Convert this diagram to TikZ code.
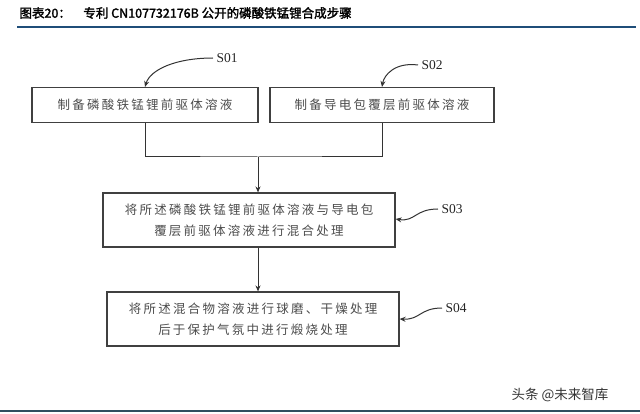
\documentclass[tikz,border=0pt]{standalone}
\usepackage{fontspec}
\setmainfont{Liberation Serif}
\newfontfamily\cjk{Noto Sans CJK SC}[LetterSpace=18]
\newfontfamily\cjkw{Noto Sans CJK SC}
\newfontfamily\cjkb{Noto Sans CJK SC}[FakeBold=2]
\usetikzlibrary{arrows.meta}
\begin{document}
\begin{tikzpicture}[x=1pt,y=-1pt,
  box/.style={draw=black!75,line width=1.1pt,minimum height=35pt,align=center,font=\cjk\fontsize{12.5}{21}\selectfont,text=black!70,inner sep=0pt},
  conn/.style={draw=black!80,line width=1pt,-{Stealth[length=6pt,width=5pt]}},
  lab/.style={font=\fontsize{13.5}{14}\selectfont,text=black!85}]
\useasboundingbox (0,0) rectangle (640,414);
\node[anchor=west,font=\cjkb\fontsize{12.5}{13}\selectfont] (title) at (16,13) {图表20：\quad 专利 CN107732176B 公开的磷酸铁锰锂合成步骤};
\draw[color={rgb,255:red,31;green,78;blue,121},line width=1.8pt] (17,27) -- (636,27);
\node[box,minimum width=226pt] (b1) at (145,105) {制备磷酸铁锰锂前驱体溶液};
\node[box,minimum width=224pt] (b2) at (382,105) {制备导电包覆层前驱体溶液};
\node[box,minimum width=292pt,minimum height=54pt] (b3) at (249,220) {将所述磷酸铁锰锂前驱体溶液与导电包\\覆层前驱体溶液进行混合处理};
\node[box,minimum width=292pt,minimum height=54pt] (b4) at (253,319) {将所述混合物溶液进行球磨、干燥处理\\后于保护气氛中进行煅烧处理};
\coordinate (m) at (258,157);
\draw[draw=black!80,line width=1pt] (b1.south) |- (m) -| (b2.south);
\draw[conn] (m) -- (m |- b3.north);
\draw[conn] (b3.south -| m) -- (b4.north -| m);
\node[lab,anchor=west] (s1) at (213,58) {S01};
\node[lab,anchor=west] (s2) at (418,65) {S02};
\node[lab,anchor=west] (s3) at (438,209) {S03};
\node[lab,anchor=west] (s4) at (442,308) {S04};
\draw[conn] (s1.west) .. controls (175,58) and (150,70) .. (b1.north);
\draw[conn] (s2.west) .. controls (395,62) and (384,75) .. (b2.north);
\draw[conn] (s3.west) .. controls (415,209) and (415,222) .. ([yshift=1pt]b3.east);
\draw[conn] (s4.west) .. controls (420,308) and (420,320) .. (b4.east);
\node[anchor=east,font=\cjkw\fontsize{13.5}{14}\selectfont,text=black!80] (wm) at (612,395) {头条 @未来智库};
\draw[color={rgb,255:red,47;green,79;blue,95},line width=1.8pt] (0,411) -- (640,411);
\end{tikzpicture}
\end{document}
